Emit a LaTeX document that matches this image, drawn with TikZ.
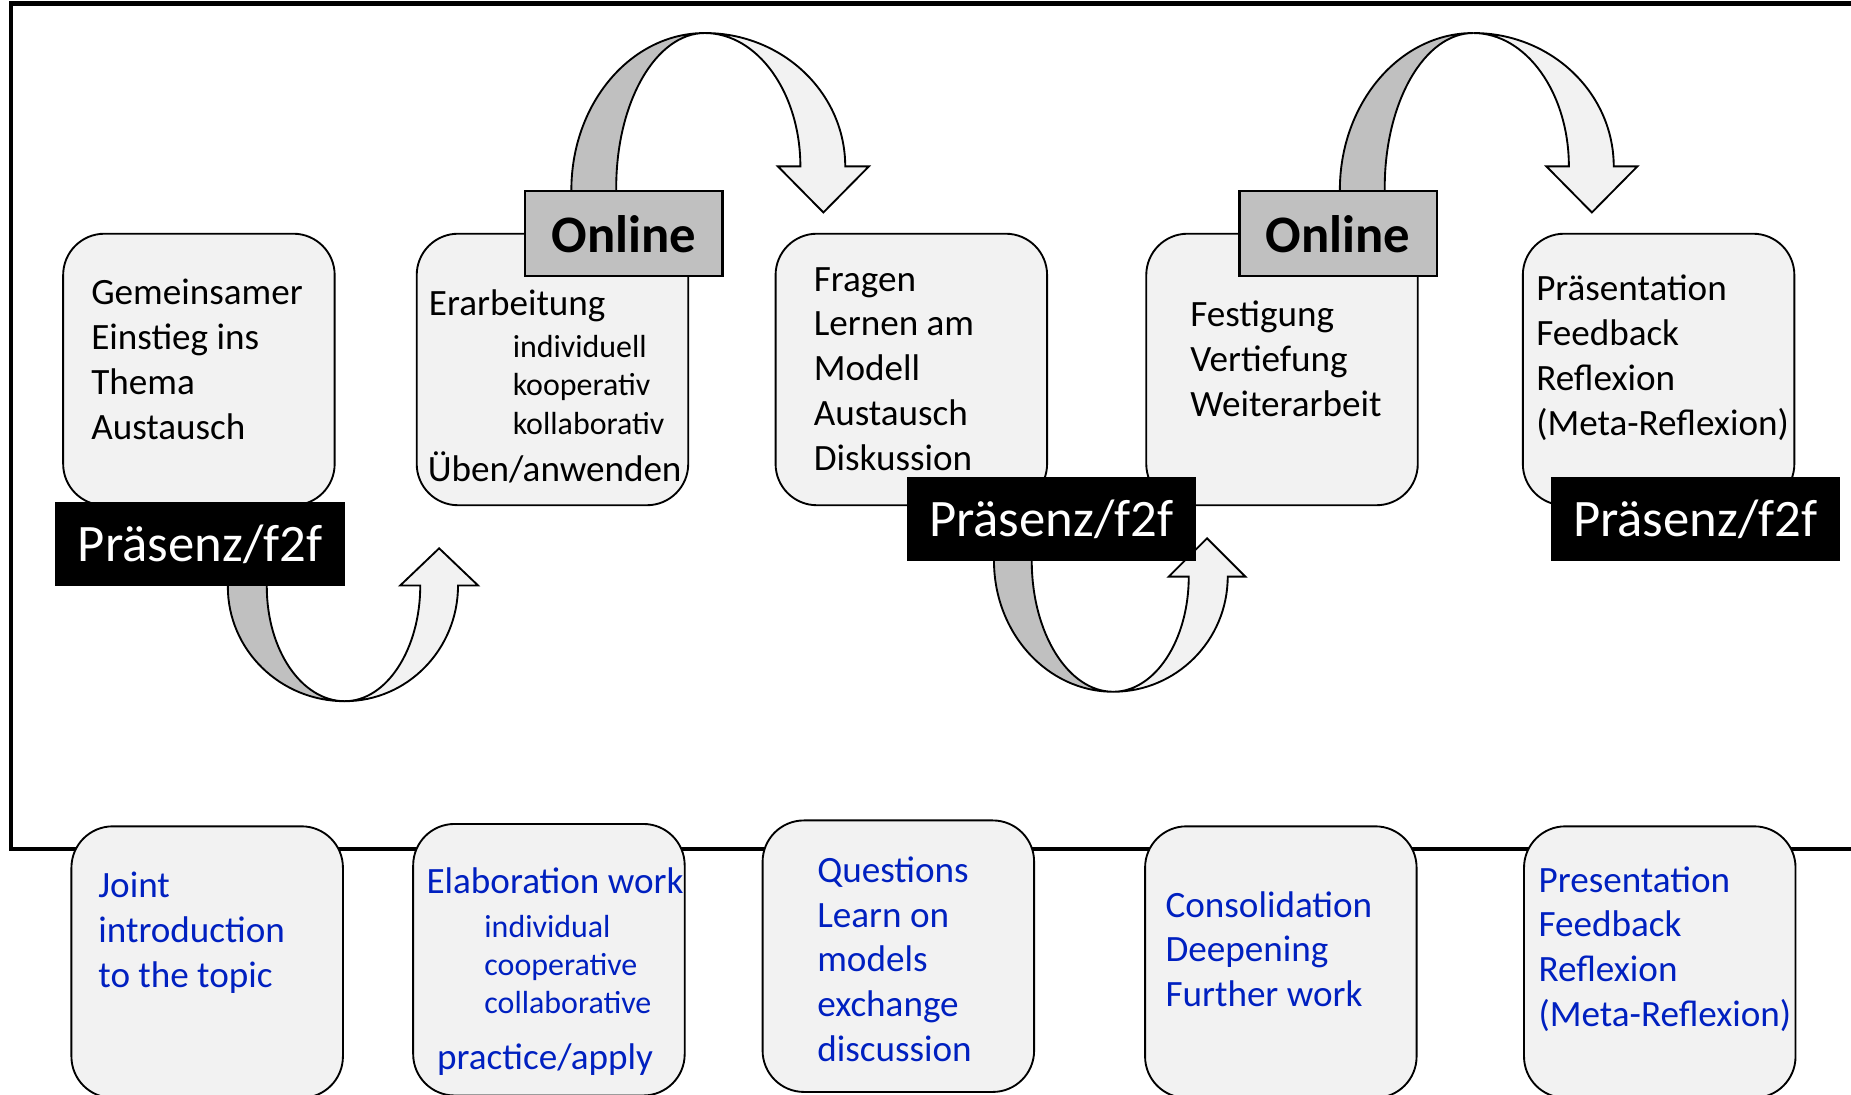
\documentclass[tikz,border=0pt]{standalone}
\usepackage{fontspec}
\setmainfont{Carlito}
\usepackage{xcolor}

\definecolor{boxgray}{HTML}{F2F2F2}
\definecolor{bandgray}{HTML}{C0C0C0}
\definecolor{engblue}{HTML}{0020C0}

\tikzset{
	phase/.style={draw, line width=0.9pt, fill=boxgray, rounded corners=0.7cm, minimum width=4.6cm, minimum height=4.6cm},
	praesenz/.style={fill=black, text=white, minimum width=4.9cm, minimum height=1.42cm, inner sep=0pt, font=\fontsize{25.4}{30}\selectfont},
	online/.style={draw, line width=1.1pt, fill=bandgray, minimum width=3.34cm, minimum height=1.44cm, inner sep=0pt, font=\fontsize{25.4}{30}\selectfont\bfseries},
	txt/.style={anchor=west, align=left, inner sep=0pt, font=\fontsize{17.9}{21.6}\selectfont},
	smalltxt/.style={txt, font=\fontsize{15.4}{18.5}\selectfont},
	back/.style={draw, line width=0.9pt, fill=bandgray},
	front/.style={draw, line width=0.9pt, fill=boxgray}
}

\begin{document}
\begin{tikzpicture}
	\path[use as bounding box, clip] (0,0) rectangle (31.36,18.54);

	% frame
	\draw[line width=2pt] (32,18.48) -- (0.18,18.48) -- (0.18,4.16) -- (32,4.16);

	% phases (German)
	\node[phase] (intro) at (3.37,12.28) {};
	\node[phase] (elab) at (9.36,12.28) {};
	\node[phase] (quest) at (15.44,12.28) {};
	\node[phase] (consol) at (21.72,12.28) {};
	\node[phase] (present) at (28.1,12.28) {};

	% phases (English)
	\node[phase] (intro-en) at (3.51,2.24) {};
	\node[phase] (elab-en) at (9.3,2.28) {};
	\node[phase] (quest-en) at (15.22,2.34) {};
	\node[phase] (consol-en) at (21.7,2.24) {};
	\node[phase] (present-en) at (28.12,2.24) {};

	% online arrows
	\draw[back] (9.68,14.8) -- (9.68,15.32) arc[start angle=180, end angle=90, x radius=2.26, y radius=2.66]
		arc[start angle=90, end angle=180, x radius=1.5, y radius=2.62] -- (10.44,14.8) -- cycle;
	\draw[front] (11.94,17.98) arc[start angle=90, end angle=0, x radius=2.38, y radius=2.26]
		-- (14.72,15.72) -- (13.95,14.94) -- (13.18,15.72) -- (13.56,15.72)
		arc[start angle=0, end angle=90, x radius=1.62, y radius=2.26] -- cycle;
	\draw[back] (22.7,14.8) -- (22.7,15.32) arc[start angle=180, end angle=90, x radius=2.26, y radius=2.66]
		arc[start angle=90, end angle=180, x radius=1.5, y radius=2.62] -- (23.46,14.8) -- cycle;
	\draw[front] (24.96,17.98) arc[start angle=90, end angle=0, x radius=2.38, y radius=2.26]
		-- (27.74,15.72) -- (26.97,14.94) -- (26.2,15.72) -- (26.58,15.72)
		arc[start angle=0, end angle=90, x radius=1.62, y radius=2.26] -- cycle;

	% f2f arrows
	\draw[back] (3.86,9.0) -- (3.86,8.6) arc[start angle=180, end angle=270, x radius=1.98, y radius=1.94]
		arc[start angle=270, end angle=180, x radius=1.32, y radius=1.94] -- (4.52,9.0) -- cycle;
	\draw[front] (5.84,6.66) arc[start angle=270, end angle=360, x radius=1.92, y radius=1.96]
		-- (8.1,8.62) -- (7.44,9.25) -- (6.78,8.62) -- (7.12,8.62)
		arc[start angle=0, end angle=-90, x radius=1.28, y radius=1.96] -- cycle;
	\draw[back] (16.84,9.3) -- (16.84,9.04) arc[start angle=180, end angle=270, x radius=2.02, y radius=2.22]
		arc[start angle=270, end angle=180, x radius=1.38, y radius=2.22] -- (17.48,9.3) -- cycle;
	\draw[front] (18.86,6.82) arc[start angle=270, end angle=360, x radius=1.94, y radius=1.95]
		-- (21.1,8.77) -- (20.45,9.42) -- (19.8,8.77) -- (20.14,8.77)
		arc[start angle=0, end angle=-90, x radius=1.28, y radius=1.95] -- cycle;

	% labels
	\node[online] (online-a) at (10.57,14.58) {Online};
	\node[online] (online-b) at (22.67,14.58) {Online};
	\node[praesenz] (f2f-a) at (3.39,9.32) {Präsenz/f2f};
	\node[praesenz] (f2f-b) at (17.81,9.74) {Präsenz/f2f};
	\node[praesenz] (f2f-c) at (28.72,9.74) {Präsenz/f2f};

	% German texts
	\node[txt] (intro-txt) at (1.54,12.45) {Gemeinsamer\\Einstieg ins\\Thema\\Austausch};
	\node[txt] (elab-head) at (7.26,13.36) {Erarbeitung};
	\node[smalltxt] (elab-list) at (8.68,12.02) {individuell\\kooperativ\\kollaborativ};
	\node[txt] (elab-foot) at (7.24,10.62) {Üben/anwenden};
	\node[txt] (quest-txt) at (13.78,12.29) {Fragen\\Lernen am\\Modell\\Austausch\\Diskussion};
	\node[txt] (consol-txt) at (20.16,12.46) {Festigung\\Vertiefung\\Weiterarbeit};
	\node[txt] (present-txt) at (26.02,12.48) {Präsentation\\Feedback\\Reflexion\\(Meta-Reflexion)};

	% English texts
	\node[txt, text=engblue] (intro-en-txt) at (1.66,2.74) {Joint\\introduction\\to the topic};
	\node[txt, text=engblue] (elab-en-head) at (7.22,3.62) {Elaboration work};
	\node[smalltxt, text=engblue] (elab-en-list) at (8.2,2.2) {individual\\cooperative\\collaborative};
	\node[txt, text=engblue] (elab-en-foot) at (7.4,0.58) {practice/apply};
	\node[txt, text=engblue] (quest-en-txt) at (13.84,2.29) {Questions\\Learn on\\models\\exchange\\discussion};
	\node[txt, text=engblue] (consol-en-txt) at (19.74,2.46) {Consolidation\\Deepening\\Further work};
	\node[txt, text=engblue] (present-en-txt) at (26.06,2.46) {Presentation\\Feedback\\Reflexion\\(Meta-Reflexion)};
\end{tikzpicture}
\end{document}
